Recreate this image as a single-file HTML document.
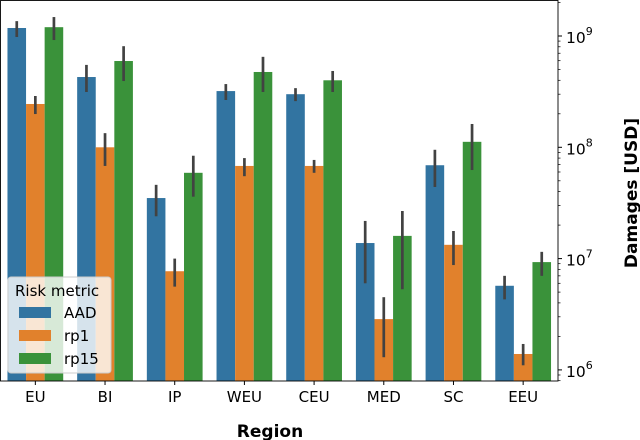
<!DOCTYPE html>
<html><head><meta charset="utf-8"><style>
body{margin:0;background:#fff}
svg{display:block;font-family:"DejaVu Sans","Liberation Sans",sans-serif}
</style></head><body>
<svg id="chart" width="640" height="440"></svg>
<script>
const regions = ["EU","BI","IP","WEU","CEU","MED","SC","EEU"];
const seriesNames = ["AAD","rp1","rp15"];
const aad  = [1.18e9,4.28e8,3.5e7,3.2e8,3.0e8,1.38e7,6.9e7,5.7e6];
const rp1  = [2.45e8,1.0e8,7.7e6,6.8e7,6.8e7,2.86e6,1.33e7,1.39e6];
const rp15 = [1.2e9,5.96e8,5.9e7,4.75e8,4.0e8,1.6e7,1.12e8,9.3e6];
const aadLo  = [0.98e9,3.14e8,2.4e7,2.66e8,2.6e8,6.0e6,4.4e7,4.3e6];
const aadHi  = [1.36e9,5.5e8,4.6e7,3.7e8,3.4e8,2.18e7,9.5e7,7.0e6];
const rp1Lo  = [1.99e8,6.8e7,5.6e6,5.5e7,5.9e7,1.3e6,8.75e6,1.1e6];
const rp1Hi  = [2.89e8,1.34e8,1.0e7,8.0e7,7.7e7,4.5e6,1.77e7,1.71e6];
const rp15Lo = [0.92e9,3.94e8,3.6e7,3.14e8,3.14e8,5.3e6,6.25e7,7.0e6];
const rp15Hi = [1.48e9,8.1e8,8.4e7,6.5e8,4.85e8,2.68e7,1.62e8,1.15e7];
const yTicks = [6,7,8,9];

const NS="http://www.w3.org/2000/svg";
const svg=document.getElementById('chart');
function el(t,a,p){const e=document.createElementNS(NS,t);for(const k in a)e.setAttribute(k,a[k]);(p||svg).appendChild(e);return e;}
const L=0.5,R=558,T=0.5,B=381;
const y=v=>36+(9-Math.log10(v))*111.3;
const step=(R-L)/regions.length;
const xc=i=>L+step*(i+0.5);
const bw=step*0.8/3;
const colors=["#3274a1","#e1812c","#3a923a"];
const vals=[aad,rp1,rp15], lo=[aadLo,rp1Lo,rp15Lo], hi=[aadHi,rp1Hi,rp15Hi];
for(let s=0;s<3;s++){
  for(let i=0;i<regions.length;i++){
    const x0=xc(i)-1.5*bw+s*bw, yt=y(vals[s][i]);
    const r=el('rect',{x:x0,y:yt,width:bw,height:B-yt,fill:colors[s]});
    
    
    const e=el('line',{x1:x0+bw/2,x2:x0+bw/2,y1:y(hi[s][i]),y2:y(lo[s][i]),stroke:'#424242','stroke-width':2.7});
    
    
  }
}
el('rect',{x:L,y:T,width:R-L,height:B-T,fill:'none',stroke:'#000','stroke-width':0.9});
regions.forEach((r,i)=>{
  el('line',{x1:xc(i),x2:xc(i),y1:B,y2:B+4,stroke:'#000'});
  const t=el('text',{x:xc(i),y:B+21,'font-size':15,'text-anchor':'middle',fill:'#000'});t.textContent=r;
  
  
});
yTicks.forEach(p=>{
  const yy=y(Math.pow(10,p));
  el('line',{x1:R,x2:R+4,y1:yy,y2:yy,stroke:'#000'});
  const t=el('text',{x:R+8,y:yy+7,'font-size':15.5,fill:'#000'});
  t.innerHTML='10<tspan dy="-8" font-size="11">'+p+'</tspan>';
  
  
  for(let m=2;m<10;m++){const ym=y(m*Math.pow(10,p));if(ym>=T&&ym<=B)el('line',{x1:R,x2:R+2.5,y1:ym,y2:ym,stroke:'#000','stroke-width':0.7});}
});
for(let m=8;m<10;m++){const ym=y(m*1e5);if(ym<=B)el('line',{x1:R,x2:R+2.5,y1:ym,y2:ym,stroke:'#000','stroke-width':0.7});}
const xl=el('text',{x:270,y:437,'font-size':17,'font-weight':'bold','text-anchor':'middle'});xl.textContent='Region';

const yl=el('text',{x:0,y:0,'font-size':17,'font-weight':'bold','text-anchor':'middle',transform:'translate(637,193) rotate(-90)'});yl.textContent='Damages [USD]';

const g=el('g',{});

el('rect',{x:8,y:277,width:103,height:96,rx:3,fill:'#fff','fill-opacity':0.8,stroke:'#ccc'},g);
const lt=el('text',{x:15,y:296,'font-size':15},g);lt.textContent='Risk metric';
seriesNames.forEach((n,s)=>{
  const yy=312+s*23;
  el('rect',{x:19,y:yy-5,width:32,height:11,fill:colors[s]},g);
  const t=el('text',{x:64,y:yy+6,'font-size':15},g);t.textContent=n;
  
  
});
</script>
</body></html>
